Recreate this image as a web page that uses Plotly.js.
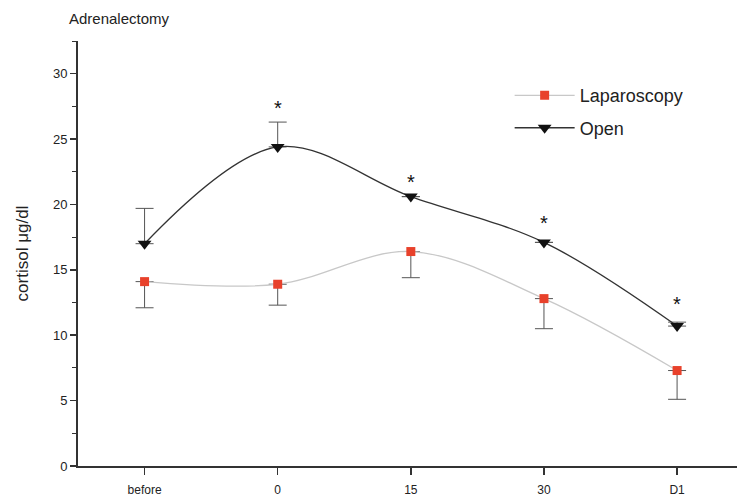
<!DOCTYPE html>
<html>
<head>
<meta charset="utf-8">
<script src="https://cdn.plot.ly/plotly-3.0.1.min.js"></script>
<style>html,body{margin:0;padding:0;background:#fff;}#chart{width:737px;height:500px;}</style>
</head>
<body>
<div id="chart"></div>
<script>
var categories = ["before", "0", "15", "30", "D1"];
var lapValues = [14.1, 13.9, 16.4, 12.8, 7.3];
var lapErrMinus = [2.0, 1.6, 2.0, 2.3, 2.2];
var openValues = [17.0, 24.4, 20.6, 17.1, 10.7];
var openErrPlus = [2.7, 1.9, 0, 0, 0.3];
var starCategories = ["0", "15", "30", "D1"];
var starY = [27.4, 21.7, 18.6, 12.4];
var yTickVals = [0, 5, 10, 15, 20, 25, 30];

var traces = [
  {
    x: categories, y: lapValues, name: "Laparoscopy", type: "scatter", mode: "lines+markers",
    legendgroup: "lap",
    line: {shape: "spline", smoothing: 1, color: "#c8c8c8", width: 1.3},
    marker: {symbol: "square", size: 9, color: "#e8412b"},
    error_y: {type: "data", symmetric: false, array: [0,0,0,0,0], arrayminus: lapErrMinus, color: "#555", thickness: 1, width: 9}
  },
  {
    x: categories, y: openValues, name: "Open", type: "scatter", mode: "lines+markers",
    legendgroup: "open",
    line: {shape: "spline", smoothing: 1, color: "#333", width: 1.3},
    marker: {symbol: "triangle-down", size: 12, color: "#111"},
    error_y: {type: "data", symmetric: false, array: openErrPlus, arrayminus: [0,0,0,0,0], color: "#555", thickness: 1, width: 9}
  }
];

var annotations = starCategories.map(function(c, i){
  return {x: categories.indexOf(c), y: starY[i], xref: "x", yref: "y", text: "*", showarrow: false,
          font: {family: "Liberation Sans, Arial", size: 20, color: "#111"}};
});
annotations.push({xref: "paper", yref: "paper", x: -0.016, y: 1.054, xanchor: "left", yanchor: "middle",
  text: "Adrenalectomy", showarrow: false, font: {family: "Liberation Sans, Arial", size: 15, color: "#222"}});

var layout = {
  width: 737, height: 500,
  margin: {l: 78, r: 0, t: 41, b: 34},
  paper_bgcolor: "#fff", plot_bgcolor: "#fff",
  showlegend: true,
  legend: {x: 0.655, y: 0.915, xanchor: "left", yanchor: "top", bgcolor: "rgba(0,0,0,0)", traceorder: "grouped",
           font: {family: "Liberation Sans, Arial", size: 18, color: "#222"}, itemwidth: 60, tracegroupgap: 6},
  xaxis: {
    type: "category", range: [-0.5, 4.45], showgrid: false, zeroline: false,
    showline: true, linecolor: "#333", linewidth: 2,
    ticks: "outside", ticklen: 7, tickcolor: "#333", tickwidth: 1.5, ticklabelstandoff: 5,
    tickfont: {family: "Liberation Sans, Arial", size: 12, color: "#222"}
  },
  yaxis: {
    range: [0, 32.5], showgrid: false, zeroline: false,
    showline: true, linecolor: "#333", linewidth: 2,
    tickvals: yTickVals, ticks: "outside", ticklen: 6, tickcolor: "#333", tickwidth: 1.5,
    minor: {dtick: 2.5, ticks: "outside", ticklen: 4, tickcolor: "#333", tickwidth: 1},
    tickfont: {family: "Liberation Sans, Arial", size: 13, color: "#222"},
    title: {text: "cortisol μg/dl", font: {family: "Liberation Sans, Arial", size: 17, color: "#222"}, standoff: 20}
  },
  annotations: annotations
};

Plotly.newPlot("chart", traces, layout, {displayModeBar: false, staticPlot: true});
</script>
</body>
</html>
